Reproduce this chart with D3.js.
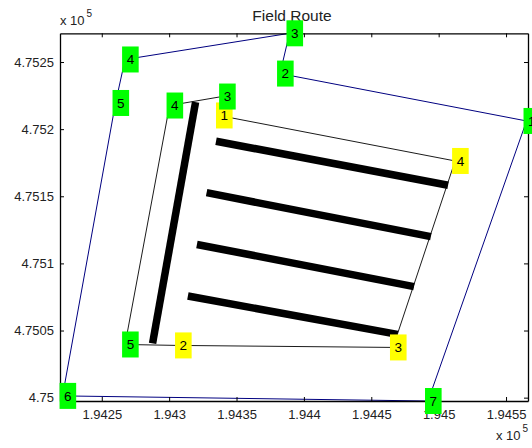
<!DOCTYPE html>
<html><head><meta charset="utf-8">
<script src="https://cdn.jsdelivr.net/npm/d3@7"></script>
<style>body{margin:0;background:#fff;} text{font-family:"Liberation Sans", Arial, Helvetica, sans-serif;}</style>
</head><body><svg id="c" width="532" height="448"></svg>
<script>
// Outer route (navy, green labels), closed loop
const outerLabels = ["1","2","3","4","5","6","7"];
const outerX = [194565.2, 194382.3, 194389.3, 194267.3, 194260.2, 194220.9, 194492.1];
const outerY = [475206.1, 475241.4, 475271.4, 475251.9, 475219.5, 475001.3, 474997.5];
// Inner boundary (thin black), closed loop
const innerLabels = ["1","4","3","2","5","4","3"];
const innerColors = ["yellow","yellow","yellow","yellow","green","green","green"];
const innerX = [194337.0, 194512.2, 194466.1, 194306.6, 194267.3, 194300.3, 194339.3];
const innerY = [475210.2, 475176.3, 475037.4, 475038.9, 475039.6, 475217.6, 475224.3];
// Swaths (thick black)
const swathX1 = [194319.6, 194334.8, 194327.8, 194320.6, 194313.9];
const swathY1 = [475220.2, 475191.0, 475152.7, 475114.1, 475075.7];
const swathX2 = [194287.7, 194507.0, 194494.2, 194481.7, 194469.5];
const swathY2 = [475040.4, 475158.2, 475119.9, 475082.7, 475047.1];
// Axes
const xTicks = [194250, 194300, 194350, 194400, 194450, 194500, 194550];
const xTickLabels = ["1.9425","1.943","1.9435","1.944","1.9445","1.945","1.9455"];
const yTicks = [475000, 475050, 475100, 475150, 475200, 475250];
const yTickLabels = ["4.75","4.7505","4.751","4.7515","4.752","4.7525"];
const xLim = [194219.0, 194566.3];
const yLim = [474997.5, 475271.4];
const title = "Field Route";

const svg = d3.select("#c");
const L = 60, R = 528, T = 33.3, B = 401;
const x = d3.scaleLinear().domain(xLim).range([L, R]);
const y = d3.scaleLinear().domain(yLim).range([B, T]);
const colorMap = {green: "#00ff00", yellow: "#ffff00"};

// Data lines
const line = d3.line().x(d => x(d[0])).y(d => y(d[1]));
const outerPts = outerX.map((v, i) => [v, outerY[i]]);
svg.append("path").attr("d", line([...outerPts, outerPts[0]]))
  .attr("fill", "none").attr("stroke", "#000080").attr("stroke-width", 1);
const innerPts = innerX.map((v, i) => [v, innerY[i]]);
svg.append("path").attr("d", line([...innerPts, innerPts[0]]))
  .attr("fill", "none").attr("stroke", "#000").attr("stroke-width", 0.9);
svg.selectAll("line.swath").data(swathX1).join("line").attr("class", "swath")
  .attr("x1", (d, i) => x(swathX1[i])).attr("y1", (d, i) => y(swathY1[i]))
  .attr("x2", (d, i) => x(swathX2[i])).attr("y2", (d, i) => y(swathY2[i]))
  .attr("stroke", "#000").attr("stroke-width", 7.5);

// Axes box
const gx = svg.append("g").attr("transform", `translate(0,${B})`)
  .call(d3.axisBottom(x).tickValues(xTicks).tickFormat((d, i) => xTickLabels[i]).tickSizeInner(-4).tickSizeOuter(0).tickPadding(9));
const gxt = svg.append("g").attr("transform", `translate(0,${T})`)
  .call(d3.axisTop(x).tickValues(xTicks).tickFormat("").tickSizeInner(-4).tickSizeOuter(0));
const gy = svg.append("g").attr("transform", `translate(${L},0)`)
  .call(d3.axisLeft(y).tickValues(yTicks).tickFormat((d, i) => yTickLabels[i]).tickSizeInner(-4).tickSizeOuter(0).tickPadding(6));
const gyr = svg.append("g").attr("transform", `translate(${R},0)`)
  .call(d3.axisRight(y).tickValues(yTicks).tickFormat("").tickSizeInner(-4).tickSizeOuter(0));
[gx, gxt, gy, gyr].forEach(g => {
  g.select(".domain").attr("stroke", "#000").attr("stroke-width", 1.3);
  g.selectAll(".tick line").attr("stroke", "#000");
  g.selectAll("text").attr("font-size", 13).attr("fill", "#222")
   .attr("font-family", '"Liberation Sans", Arial, sans-serif');
});

// Title
svg.append("text").attr("x", 292).attr("y", 20.5).attr("text-anchor", "middle")
  .attr("font-size", 15.5).attr("fill", "#222").text(title);
// Exponent labels
function expo(tx, ty) {
  const t = svg.append("text").attr("x", tx).attr("y", ty).attr("font-size", 13).attr("fill", "#222");
  t.append("tspan").text("x 10");
  t.append("tspan").attr("dx", 2).attr("dy", -8).attr("font-size", 10).text("5");
}
expo(60, 25);
expo(496, 440);

// Labels
function label(px, py, txt, col) {
  const g = svg.append("g");
  g.append("rect").attr("x", px - 3).attr("y", py - 13).attr("width", 16.6).attr("height", 26)
    .attr("fill", colorMap[col]);
  g.append("text").attr("x", px - 3 + 8.3).attr("y", py + 4.8).attr("text-anchor", "middle")
    .attr("font-size", 13.5).attr("fill", "#000").text(txt);
}
outerPts.forEach((p, i) => label(x(p[0]), y(p[1]), outerLabels[i], "green"));
innerPts.forEach((p, i) => label(x(p[0]), y(p[1]), innerLabels[i], innerColors[i]));
</script></body></html>
